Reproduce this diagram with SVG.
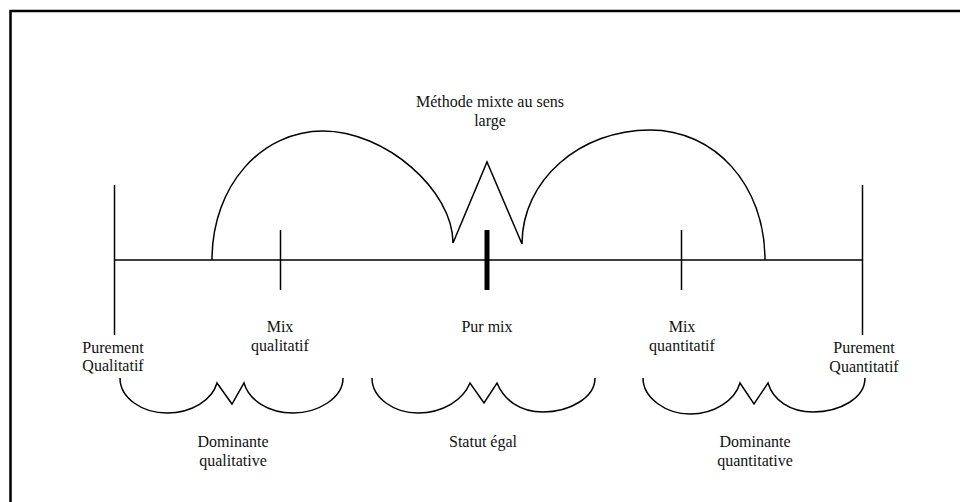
<svg xmlns="http://www.w3.org/2000/svg" width="960" height="502" viewBox="0 0 960 502">
<style>
.ln{fill:none;stroke:#000;stroke-width:1.5;stroke-linejoin:miter}
.t{font-family:"Liberation Serif","Times New Roman",serif;font-size:16px;fill:#111;text-anchor:middle}
</style>
<rect width="960" height="502" fill="#fff"/>
<g id="frame"><path d="M10.5,502 V11 H960" fill="none" stroke="#000" stroke-width="2.5"/></g>
<g id="connectors">
<path class="ln" d="M114.5,260 H862.5"/>
<path class="ln" d="M114.5,185 V335"/>
<path class="ln" d="M862.5,185 V335"/>
<path class="ln" d="M280.5,230 V290"/>
<path class="ln" d="M681.5,230 V290"/>
<path d="M487,230 V290" stroke="#000" stroke-width="5"/>
<path class="ln" d="M212,260 C212,185 262,131 323,131 C385,131 453,190 453,243 L487,162 L522,244 C522,180 580,130 650,130 C715,130 765,185 765,260"/>
<path class="ln" d="M120,378 C120,398 142,413 167,413 C192,413 212,400 217,383 L232,404 L244,383 C249,400 268,413 293,413 C318,413 343,398 343,378"/>
<path class="ln" d="M372,378 C372,398 394,413 418,413 C443,413 463,400 470,383 L484,403 L497,383 C504,400 520,412 543,412 C569,412 595,398 595,378"/>
<path class="ln" d="M643,378 C643,398 666,414 690,414 C715,414 735,400 740,383 L754,404 L768,383 C773,400 790,412 813,412 C840,412 865,398 865,378"/>
</g>
<g id="title"><text class="t" x="490" y="107">Méthode mixte au sens</text><text class="t" x="490" y="126">large</text></g>
<g id="pur-qual"><text class="t" x="113" y="352.5">Purement</text><text class="t" x="113" y="371">Qualitatif</text></g>
<g id="mix-qual"><text class="t" x="280" y="332">Mix</text><text class="t" x="280" y="351">qualitatif</text></g>
<g id="pur-mix"><text class="t" x="487" y="332">Pur mix</text></g>
<g id="mix-quant"><text class="t" x="682" y="332">Mix</text><text class="t" x="682" y="351">quantitatif</text></g>
<g id="pur-quant"><text class="t" x="864" y="352.5">Purement</text><text class="t" x="864" y="371.5">Quantitatif</text></g>
<g id="dom-qual"><text class="t" x="233" y="447">Dominante</text><text class="t" x="233" y="466">qualitative</text></g>
<g id="statut"><text class="t" x="483" y="447">Statut égal</text></g>
<g id="dom-quant"><text class="t" x="755" y="447">Dominante</text><text class="t" x="755" y="466">quantitative</text></g>
</svg>
